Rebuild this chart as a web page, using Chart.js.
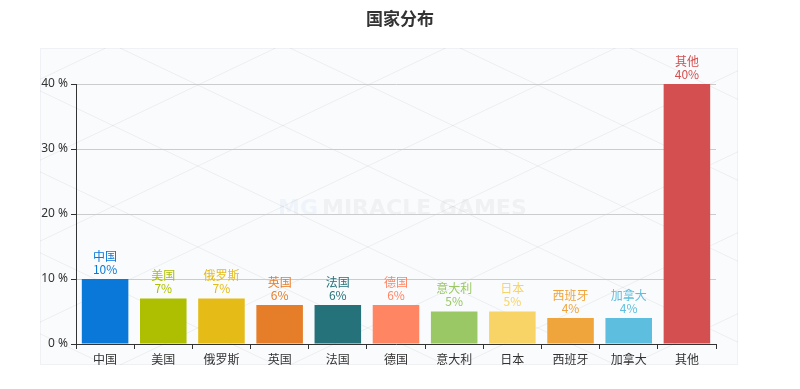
<!DOCTYPE html>
<html>
<head>
<meta charset="utf-8">
<script src="https://cdn.jsdelivr.net/npm/chart.js@4.4.0/dist/chart.umd.min.js"></script>
<style>
  html, body { margin: 0; padding: 0; background: #fff; }
  #wrap { width: 800px; height: 389px; }
</style>
</head>
<body>
<div id="wrap"><canvas id="c"></canvas></div>
<script>
// data
const countries = ['中国', '美国', '俄罗斯', '英国', '法国', '德国', '意大利', '日本', '西班牙', '加拿大', '其他'];
const shares = [10, 7, 7, 6, 6, 6, 5, 5, 4, 4, 40];
const barColors = ['#0a78d8', '#adbf00', '#e5bb18', '#e57d29', '#26727a', '#ff8563', '#9ac864', '#f8d466', '#f0a43c', '#5dbedf', '#d44f4f'];
const yTicks = [0, 10, 20, 30, 40];

// light panel behind the plot + diagonal lattice + watermark
const panelPlugin = {
  id: 'panel',
  beforeDraw(chart){
    const { ctx, chartArea: a } = chart;
    const x0 = a.left - 36, x1 = a.right + 22, y0 = a.top - 36, y1 = a.bottom + 21;
    ctx.save();
    ctx.fillStyle = '#fafbfd';
    ctx.fillRect(x0, y0, x1 - x0, y1 - y0);
    ctx.strokeStyle = '#f0f1f4';
    ctx.strokeRect(x0 + 0.5, y0 + 0.5, x1 - x0 - 1, y1 - y0 - 1);
    ctx.beginPath();
    ctx.rect(x0, y0, x1 - x0, y1 - y0);
    ctx.clip();
    ctx.strokeStyle = 'rgba(0,0,0,0.055)';
    ctx.lineWidth = 1;
    const step = 170;
    for (let s = -600; s < 1400; s += step){
      ctx.beginPath();
      ctx.moveTo(x0 + s, y0);
      ctx.lineTo(x0 + s + 2 * (y1 - y0) * 1.05, y1);
      ctx.stroke();
      ctx.beginPath();
      ctx.moveTo(x0 + s, y1);
      ctx.lineTo(x0 + s + 2 * (y1 - y0) * 1.05, y0);
      ctx.stroke();
    }
    // watermark
    const cx = (a.left + a.right) / 2 - 4, cy = a.top + (a.bottom - a.top) * 0.48;
    ctx.globalAlpha = 0.06;
    ctx.font = 'bold 22px "DejaVu Sans", sans-serif';
    ctx.textBaseline = 'middle';
    ctx.fillStyle = '#2d8fc9';
    ctx.fillText('MG', cx - 114, cy);
    ctx.fillStyle = '#555';
    ctx.fillText('MIRACLE GAMES', cx - 70, cy);
    ctx.restore();
  }
};

// two-line value labels above each bar
const labelPlugin = {
  id: 'barLabels',
  afterDatasetsDraw(chart){
    const { ctx } = chart;
    const meta = chart.getDatasetMeta(0);
    ctx.save();
    ctx.font = '12px "Noto Sans CJK SC", sans-serif';
    ctx.textAlign = 'center';
    ctx.textBaseline = 'middle';
    meta.data.forEach((bar, i) => {
      ctx.fillStyle = barColors[i];
      ctx.fillText(shares[i] + '%', bar.x, bar.y - 10);
      ctx.fillText(countries[i], bar.x, bar.y - 23);
    });
    ctx.restore();
  }
};

new Chart(document.getElementById('c'), {
  type: 'bar',
  data: {
    labels: countries,
    datasets: [{
      data: shares,
      backgroundColor: barColors,
      barPercentage: 0.8,
      categoryPercentage: 1
    }]
  },
  options: {
    responsive: true,
    maintainAspectRatio: false,
    animation: false,
    layout: { padding: 0 },
    plugins: {
      legend: { display: false },
      tooltip: { enabled: false },
      title: {
        display: true,
        text: '国家分布',
        color: '#333',
        font: { family: '"Noto Sans CJK SC", sans-serif', size: 17, weight: 'bold' },
        padding: { top: 8, bottom: 55.6 }
      }
    },
    scales: {
      x: {
        grid: { display: true, drawOnChartArea: false, offset: true, tickLength: 5, tickColor: '#333' },
        border: { color: '#333', width: 1 },
        ticks: { color: '#333', padding: 3, font: { family: '"Noto Sans CJK SC", sans-serif', size: 12 } },
        afterFit(s){ s.height = 45; }
      },
      y: {
        min: 0,
        max: 40,
        afterBuildTicks(s){ s.ticks = yTicks.map(v => ({ value: v })); },
        grid: { color: '#cccccc', tickLength: 5, tickColor: '#333' },
        border: { color: '#333', width: 1 },
        ticks: {
          color: '#333',
          padding: 3,
          font: { family: '"Noto Sans", sans-serif', size: 12 },
          callback: v => v + ' %'
        },
        afterFit(s){ s.width = 76; }
      },
      // empty right-hand spacer so the title stays centred on the full canvas
      yRight: {
        position: 'right',
        min: 0,
        max: 40,
        grid: { display: false },
        border: { display: false },
        ticks: { display: false },
        afterFit(s){ s.width = 84; }
      }
    }
  },
  plugins: [panelPlugin, labelPlugin]
});
</script>
</body>
</html>
